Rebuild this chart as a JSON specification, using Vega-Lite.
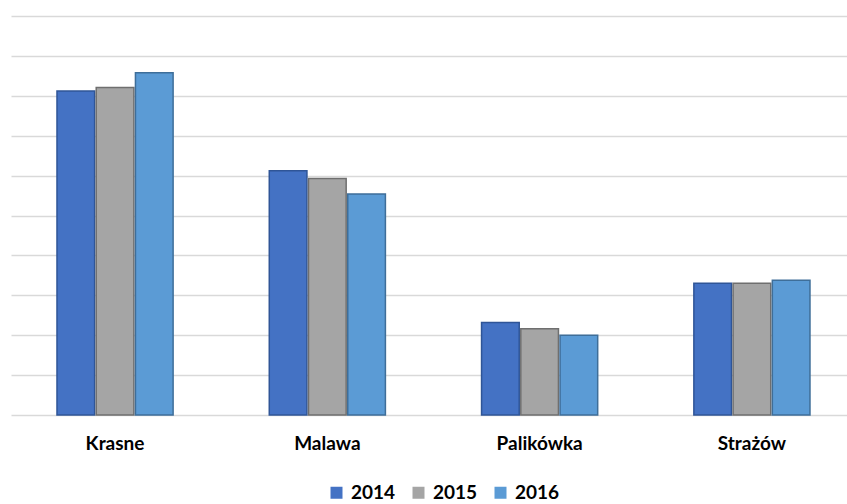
{
  "$schema": "https://vega.github.io/schema/vega-lite/v6.json",
  "width": 836,
  "height": 399,
  "autosize": {"type": "none"},
  "padding": {"left": 11, "top": 16, "right": 0, "bottom": 89},
  "background": "white",
  "data": {
    "values": [
      {"miejscowosc": "Krasne", "rok": "2014", "wartosc": 8.12},
      {"miejscowosc": "Krasne", "rok": "2015", "wartosc": 8.21},
      {"miejscowosc": "Krasne", "rok": "2016", "wartosc": 8.58},
      {"miejscowosc": "Malawa", "rok": "2014", "wartosc": 6.12},
      {"miejscowosc": "Malawa", "rok": "2015", "wartosc": 5.93},
      {"miejscowosc": "Malawa", "rok": "2016", "wartosc": 5.54},
      {"miejscowosc": "Palikówka", "rok": "2014", "wartosc": 2.32},
      {"miejscowosc": "Palikówka", "rok": "2015", "wartosc": 2.16},
      {"miejscowosc": "Palikówka", "rok": "2016", "wartosc": 2.0},
      {"miejscowosc": "Strażów", "rok": "2014", "wartosc": 3.3},
      {"miejscowosc": "Strażów", "rok": "2015", "wartosc": 3.3},
      {"miejscowosc": "Strażów", "rok": "2016", "wartosc": 3.38}
    ]
  },
  "mark": {"type": "bar", "strokeWidth": 1.5},
  "encoding": {
    "x": {
      "field": "miejscowosc",
      "type": "nominal",
      "sort": null,
      "scale": {"paddingInner": 0.453, "paddingOuter": 0.1955, "align": 0.554},
      "axis": {
        "title": null,
        "domain": false,
        "ticks": false,
        "labelAngle": 0,
        "labelFont": "Lato",
        "labelFontWeight": "bold",
        "labelFontSize": 19,
        "labelColor": "#000000",
        "labelPadding": 19
      }
    },
    "xOffset": {
      "field": "rok",
      "type": "nominal",
      "scale": {"paddingInner": 0.04}
    },
    "y": {
      "field": "wartosc",
      "type": "quantitative",
      "scale": {"domain": [0, 10], "nice": false},
      "axis": {
        "title": null,
        "labels": false,
        "ticks": false,
        "domain": false,
        "values": [0, 1, 2, 3, 4, 5, 6, 7, 8, 9, 10],
        "grid": true,
        "gridColor": "#d9d9d9",
        "gridWidth": 1.6
      }
    },
    "color": {
      "field": "rok",
      "type": "nominal",
      "scale": {"domain": ["2014", "2015", "2016"], "range": ["#4472C4", "#A5A5A5", "#5B9BD5"]},
      "legend": {
        "title": null,
        "orient": "none",
        "direction": "horizontal",
        "legendX": 316,
        "legendY": 467,
        "symbolType": "square",
        "symbolSize": 144,
        "symbolStrokeWidth": 0,
        "labelFont": "Lato",
        "labelFontWeight": "bold",
        "labelFontSize": 19,
        "labelColor": "#000000",
        "labelOffset": 5,
        "columnPadding": 13
      }
    },
    "stroke": {
      "field": "rok",
      "type": "nominal",
      "scale": {"domain": ["2014", "2015", "2016"], "range": ["#2F5597", "#6F6F6F", "#3E6E99"]},
      "legend": null
    }
  },
  "config": {
    "view": {"stroke": null}
  }
}
